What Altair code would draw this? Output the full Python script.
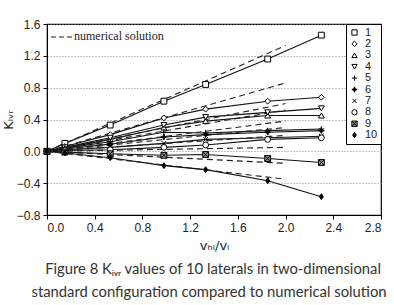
import altair as alt
import pandas as pd

# ---- data ----
series_names = ["1", "2", "3", "4", "5", "6", "7", "8", "9", "10"]
x_meas = [0.0, 0.15, 0.53, 0.98, 1.33, 1.85, 2.30]
s1 = [0.0, 0.10, 0.33, 0.63, 0.84, 1.16, 1.46]
s2 = [0.0, 0.06, 0.21, 0.42, 0.53, 0.63, 0.68]
s3 = [0.0, 0.04, 0.15, 0.30, 0.38, 0.45, 0.45]
s4 = [0.0, 0.05, 0.17, 0.33, 0.43, 0.49, 0.54]
s5 = [0.0, 0.04, 0.12, 0.24, 0.23, 0.26, 0.28]
s6 = [0.0, 0.03, 0.09, 0.18, 0.21, 0.24, 0.26]
s7 = [0.0, 0.02, 0.05, 0.10, 0.15, 0.17, 0.19]
s8 = [0.0, 0.01, 0.02, 0.05, 0.08, 0.15, 0.17]
s9 = [0.0, -0.01, -0.03, -0.05, -0.04, -0.09, -0.14]
s10 = [0.0, -0.02, -0.08, -0.18, -0.23, -0.37, -0.57]
measured = [s1, s2, s3, s4, s5, s6, s7, s8, s9, s10]

x_num = [0.0, 2.0]
n_end = [1.33, 0.86, 0.60, 0.52, 0.38, 0.30, 0.20, 0.05, -0.15, -0.35]

x_ticks = [0.0, 0.4, 0.8, 1.2, 1.6, 2.0, 2.4, 2.8]
y_ticks = [-0.8, -0.4, 0.0, 0.4, 0.8, 1.2, 1.6]

caption_1 = "Figure 8 K\u1d62\u1d65\u1d63 values of 10 laterals in two-dimensional"
caption_2 = "standard configuration compared to numerical solution"
key_label = "numerical solution"

# ---- tables ----
rows = []
for name, vals in zip(series_names, measured):
    for xv, yv in zip(x_meas, vals):
        rows.append({"series": name, "x": xv, "y": yv})
df = pd.DataFrame(rows)

nrows = []
for name, end in zip(series_names, n_end):
    nrows.append({"series": name, "x": x_num[0], "y": 0.0})
    nrows.append({"series": name, "x": x_num[1], "y": end})
dfn = pd.DataFrame(nrows)

one = pd.DataFrame({"a": [0]})

W, H = 334, 191

shapes = [
    "square",
    "diamond",
    "triangle-up",
    "triangle-down",
    "M-1,0H1M0,-1V1",
    "M0,-1L0.3,-0.3L1,0L0.3,0.3L0,1L-0.3,0.3L-1,0L-0.3,-0.3Z",
    "M-0.8,-0.8L0.8,0.8M-0.8,0.8L0.8,-0.8",
    "circle",
    "M-1,-1H1V1H-1ZM-1,-1L1,1M-1,1L1,-1",
    "M0,-1L0.7,0L0,1L-0.7,0Z",
]
fills = ["white", "white", "white", "white", "white", "black",
         "white", "white", "#999", "black"]
strokes = ["black"] * 10

xscale = alt.Scale(domain=[0, 2.8], nice=False, zero=False)
yscale = alt.Scale(domain=[-0.8, 1.6], nice=False, zero=False)

X = alt.X("x:Q", scale=xscale,
          axis=alt.Axis(values=x_ticks, format=".1f", title="v\u2095\u1d62/v\u2097",
                        grid=False, tickSize=4, labelPadding=3, titlePadding=6,
                        labelOverlap=False))
Y = alt.Y("y:Q", scale=yscale,
          axis=alt.Axis(values=y_ticks, format=".1f", title="K\u1d62\u1d65\u1d63",
                        grid=True, gridDash=[1, 2], gridColor="#888",
                        tickSize=4, labelPadding=3, titleX=-32,
                        labelOverlap=False, labelBound=False))

base = alt.Chart(df)

lines = base.mark_line(color="#111", strokeWidth=1.1).encode(
    x=X, y=Y, detail="series:N", order="x:Q")

num = alt.Chart(dfn).mark_line(color="#222", strokeWidth=1.1, strokeDash=[6, 4]).encode(
    x=X, y=Y, detail="series:N")

leg = alt.Legend(title=None, orient="top-right", offset=0, padding=3,
                 strokeColor="black", fillColor="white",
                 labelFontSize=11, labelFont="Liberation Sans", labelColor="#222",
                 symbolSize=28, symbolStrokeWidth=1,
                 rowPadding=-0.6, labelOffset=5)

points = base.mark_point(size=34, strokeWidth=1, opacity=1, filled=False).encode(
    x=X, y=Y,
    shape=alt.Shape("series:N", scale=alt.Scale(domain=series_names, range=shapes), legend=leg),
    fill=alt.Fill("series:N", scale=alt.Scale(domain=series_names, range=fills), legend=leg),
    stroke=alt.Stroke("series:N", scale=alt.Scale(domain=series_names, range=strokes), legend=leg),
)

key_rule = alt.Chart(one).mark_rule(color="#222", strokeDash=[5, 3], strokeWidth=1.1).encode(
    x=alt.value(4), x2=alt.value(26), y=alt.value(13))
key_text = alt.Chart(one).mark_text(
    text=key_label, align="left", baseline="middle",
    font="Liberation Serif", fontSize=12, color="#222").encode(
    x=alt.value(27), y=alt.value(12))

cap1 = alt.Chart(one).mark_text(
    text=caption_1, align="center", baseline="middle", font="Lato",
    fontSize=14.8, color="#333").encode(x=alt.value(166), y=alt.value(246))
cap2 = alt.Chart(one).mark_text(
    text=caption_2, align="center", baseline="middle", font="Lato",
    fontSize=14.8, color="#333").encode(x=alt.value(162), y=alt.value(269))

chart = alt.layer(lines, num, points, key_rule, key_text, cap1, cap2).properties(
    width=W, height=H,
    padding={"left": 47, "top": 24, "right": 13, "bottom": 90},
    autosize=alt.AutoSizeParams(type="none"),
).configure_view(stroke="black", strokeWidth=1.2).configure_axis(
    domainColor="black", tickColor="black", labelColor="#222", titleColor="#222",
    labelFont="Liberation Sans", labelFontSize=12, titleFont="DejaVu Sans",
    titleFontSize=13, titleFontWeight="normal",
)

chart.save("out.html", embed_options={"renderer": "svg", "actions": False})
